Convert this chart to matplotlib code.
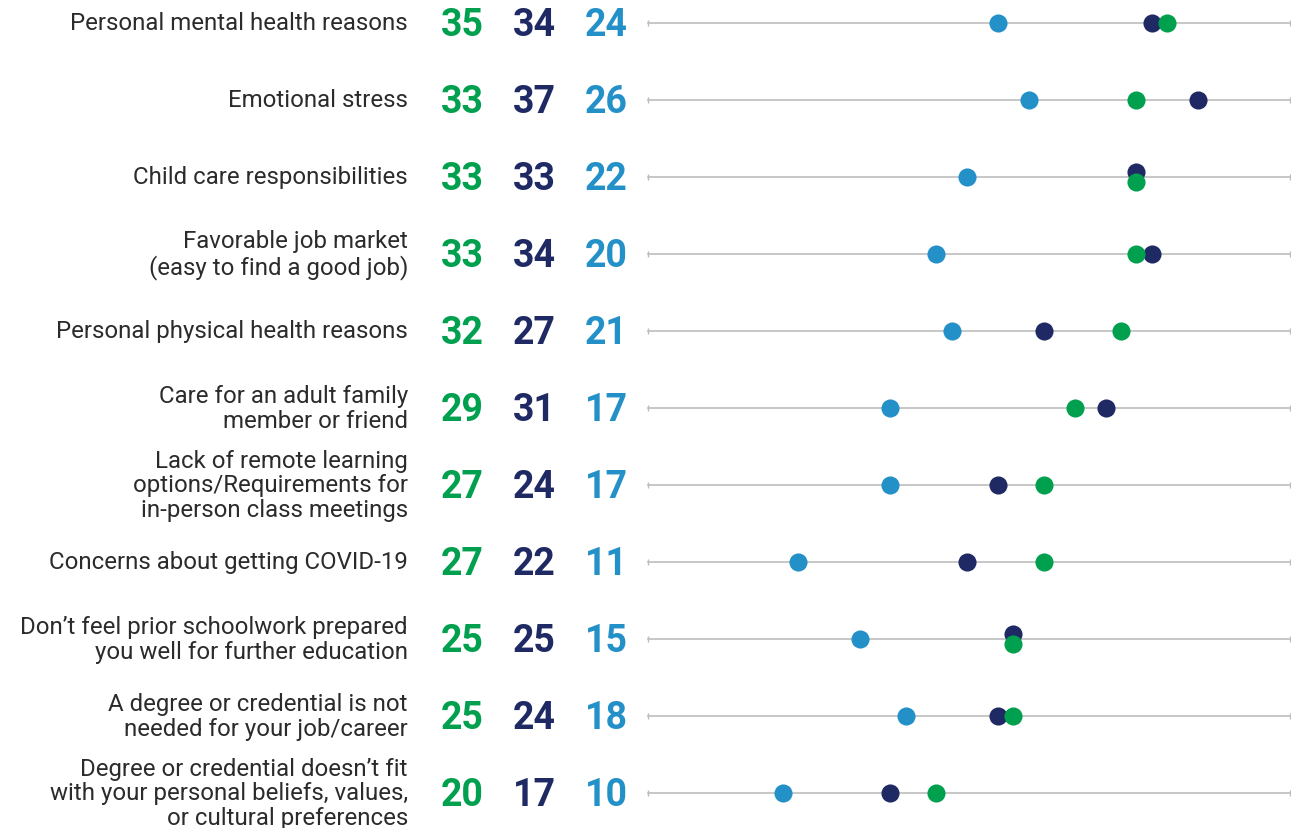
import matplotlib.pyplot as plt
import matplotlib.transforms as mtransforms

# Reasons and the three series (green, navy, light blue)
reasons = [
    "Personal mental health reasons",
    "Emotional stress",
    "Child care responsibilities",
    "Favorable job market\n(easy to find a good job)",
    "Personal physical health reasons",
    "Care for an adult family\nmember or friend",
    "Lack of remote learning\noptions/Requirements for\nin-person class meetings",
    "Concerns about getting COVID-19",
    "Don\u2019t feel prior schoolwork prepared\nyou well for further education",
    "A degree or credential is not\nneeded for your job/career",
    "Degree or credential doesn\u2019t fit\nwith your personal beliefs, values,\nor cultural preferences",
]
green_vals = [35, 33, 33, 33, 32, 29, 27, 27, 25, 25, 20]
navy_vals = [34, 37, 33, 34, 27, 31, 24, 22, 25, 24, 17]
blue_vals = [24, 26, 22, 20, 21, 17, 17, 11, 15, 18, 10]

green = "#00A04E"
navy = "#1F2A64"
blue = "#2490C8"

plt.rcParams['font.family'] = ['Roboto', 'DejaVu Sans']

W, H = 1291, 829
fig = plt.figure(figsize=(W / 100, H / 100), dpi=100)
ax = fig.add_axes([648 / W, 0, (1290 - 648) / W, 1])
ax.set_xlim(1.24, 43)
top = -24 / 77
ax.set_ylim(top + H / 77, top)
ax.axis('off')

trans = mtransforms.blended_transform_factory(fig.transFigure, ax.transData)

for i, r in enumerate(reasons):
    ax.axhline(i, color="#BDBDBD", lw=1.2, zorder=1,
               marker='|', ms=5, mew=1, clip_on=False)
    # nudge tied dots apart so both stay visible
    dy = 0.06 if green_vals[i] == navy_vals[i] else 0
    ax.scatter(blue_vals[i], i, s=170, color=blue, zorder=3, lw=0)
    ax.scatter(navy_vals[i], i - dy, s=170, color=navy, zorder=3, lw=0)
    ax.scatter(green_vals[i], i + dy, s=170, color=green, zorder=4, lw=0)

    ax.text(408 / W, i, r, transform=trans, ha='right', va='center',
            fontsize=17.3, color="#2b2b2b", linespacing=1.08)
    for xp, v, c in [(462, green_vals[i], green), (534, navy_vals[i], navy),
                     (606, blue_vals[i], blue)]:
        ax.text(xp / W, i + 0.02, str(v), transform=trans, ha='center',
                va='center', fontsize=27, fontweight='bold', color=c)

fig.savefig("out.png", dpi=100)
